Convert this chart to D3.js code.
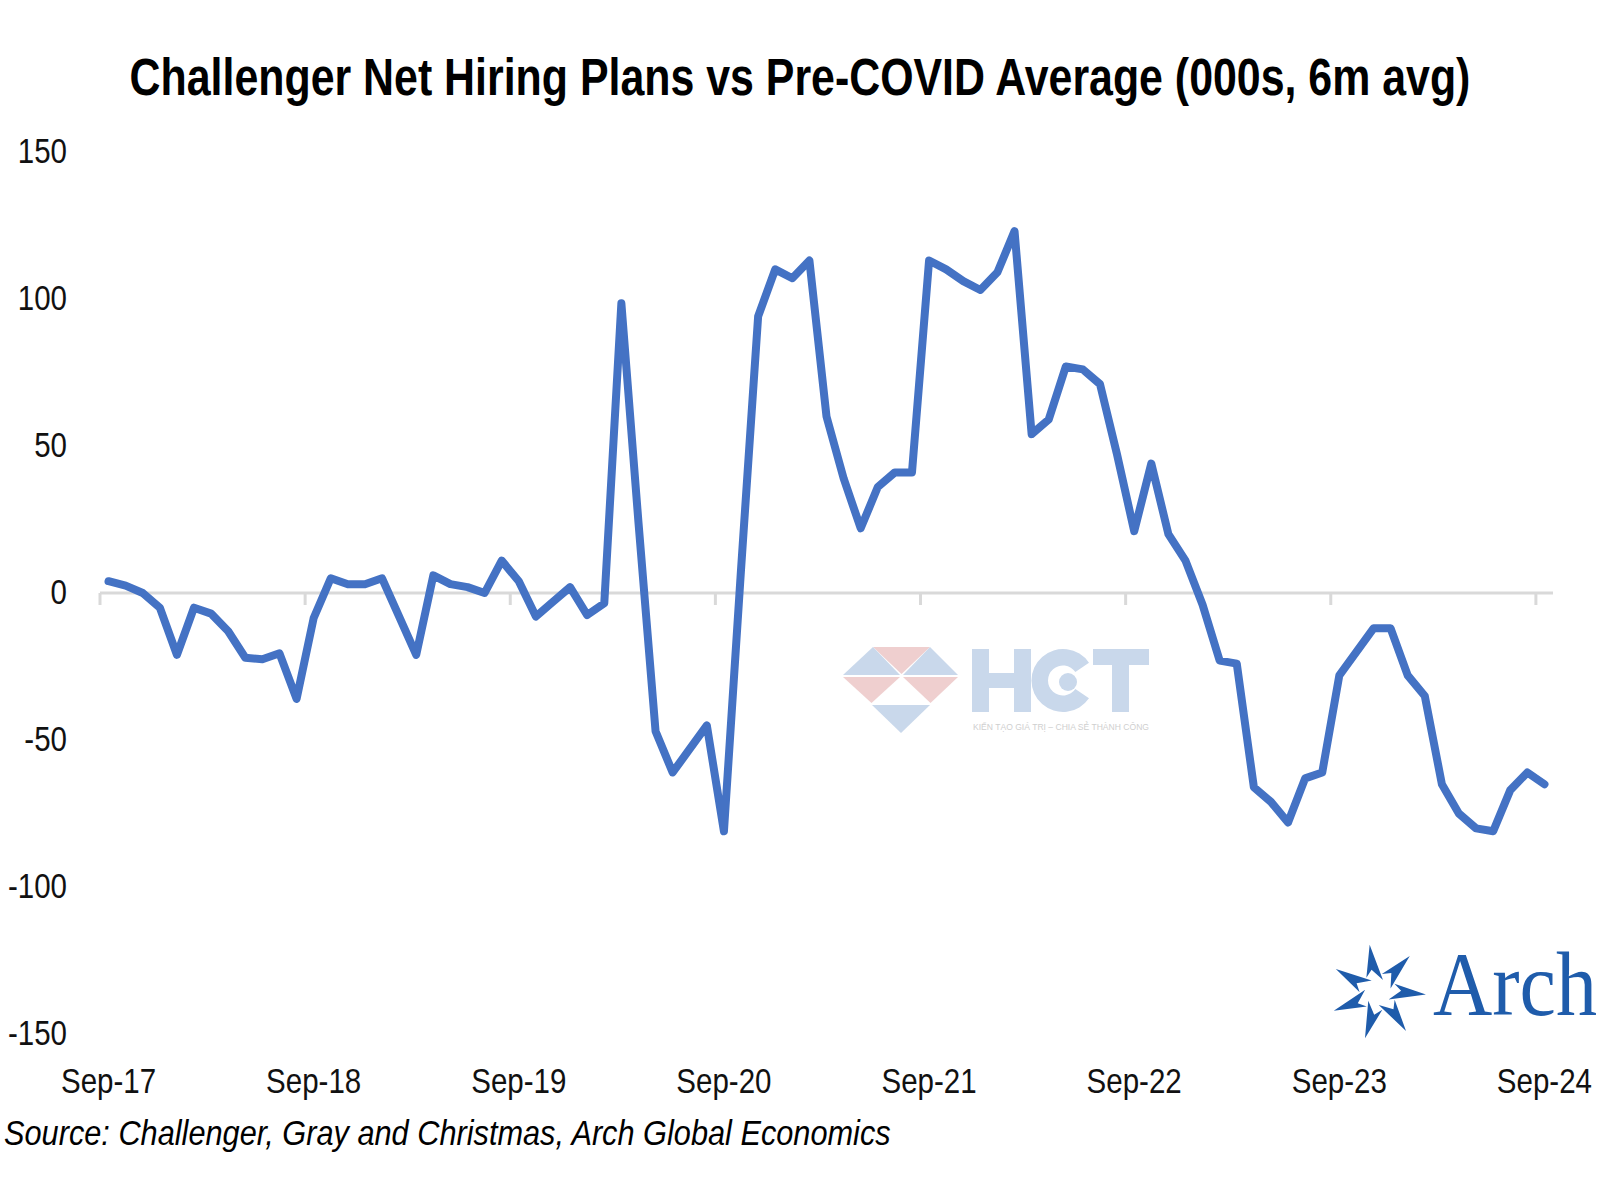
<!DOCTYPE html>
<html><head><meta charset="utf-8">
<script src="https://cdn.jsdelivr.net/npm/d3@7"></script>
<style>html,body{margin:0;padding:0;background:#fff;} svg{display:block}</style>
</head><body>
<svg id="chart" width="1600" height="1200"></svg>
<script>
const title = "Challenger Net Hiring Plans vs Pre-COVID Average (000s, 6m avg)";
const source = "Source: Challenger, Gray and Christmas, Arch Global Economics";
const startMonth = new Date(2017, 8, 1);
const endMonth = new Date(2024, 9, 1);
const months = d3.timeMonths(startMonth, endMonth);
const values = [
  4, 2.5, 0, -5, -21, -5, -7, -13, -22, -22.5, -20.5, -36,
  -8.5, 5, 3, 3, 5, -8, -21, 6, 3, 2, 0, 11,
  4, -8, -3, 2, -7.5, -3.5, 98.5, 24, -47, -61, -53, -45,
  -81, 8, 94, 110, 107, 113, 60, 39, 22, 36, 41, 41,
  113, 110, 106, 103, 109, 123, 54, 59, 77, 76, 71, 47,
  21, 44, 20, 11, -4, -23, -24, -66, -71, -78, -63, -61,
  -28, -20, -12, -12, -28, -35, -65, -75, -80, -81, -67, -61,
  -65
];
const yTicks = [-150, -100, -50, 0, 50, 100, 150];
const xTickLabels = ["Sep-17","Sep-18","Sep-19","Sep-20","Sep-21","Sep-22","Sep-23","Sep-24"];
const fmt = d3.timeFormat("%b-%y");

const svg = d3.select("#chart");
const FONT = "'Liberation Sans', Arial, sans-serif";
const NARROW = 0.82;

const x = d3.scaleBand().domain(months).range([100, 1553]).padding(0);
const y = d3.scaleLinear().domain([-150, 150]).range([1034.3, 151.7]);
const cx = m => x(m) + x.bandwidth() / 2;

// ---------- watermark (HCT) ----------
const wm = svg.append("g").attr("class", "watermark");
const wBlue = "#c9d8eb", wPink = "#efcfcf";
const tri = [
  [[873,647],[930,647],[901.5,674]],
  [[843,675],[873,647],[900,675]],
  [[903,675],[930,647],[958,675]],
  [[843,677],[900,677],[871.5,703]],
  [[903,677],[958,677],[930.5,703]],
  [[872,705],[930,705],[901,733]]
];
const triCol = [wPink, wBlue, wBlue, wPink, wPink, wBlue];
wm.selectAll("path.tri").data(tri).join("path")
  .attr("class","tri")
  .attr("d", d => "M" + d.map(p => p.join(",")).join("L") + "Z")
  .attr("fill", (d,i) => triCol[i]);
// H
wm.append("rect").attr("x",972).attr("y",649).attr("width",17).attr("height",63).attr("fill",wBlue);
wm.append("rect").attr("x",1014).attr("y",649).attr("width",17).attr("height",63).attr("fill",wBlue);
wm.append("rect").attr("x",972).attr("y",673).attr("width",59).attr("height",15).attr("fill",wBlue);
// C with dot
wm.append("path")
  .attr("transform","translate(1063,680.5)")
  .attr("d", d3.arc()({innerRadius: 15, outerRadius: 31.5, startAngle: Math.PI/2 + 0.6, endAngle: Math.PI/2 - 0.6 + 2*Math.PI}))
  .attr("fill", wBlue);
wm.append("circle").attr("cx",1068).attr("cy",682).attr("r",9).attr("fill",wBlue);
// T
wm.append("rect").attr("x",1093).attr("y",649).attr("width",56).attr("height",16).attr("fill",wBlue);
wm.append("rect").attr("x",1112).attr("y",649).attr("width",17).attr("height",63).attr("fill",wBlue);
wm.append("text").attr("x",973).attr("y",730)
  .attr("font-family", FONT).attr("font-size", 9).attr("fill", "#cfcfcf")
  .attr("textLength", 176).attr("lengthAdjust","spacingAndGlyphs")
  .text("KIẾN TẠO GIÁ TRỊ – CHIA SẺ THÀNH CÔNG");

// ---------- axis (zero line + ticks) ----------
svg.append("line")
  .attr("x1", x.range()[0]).attr("x2", x.range()[1])
  .attr("y1", y(0)).attr("y2", y(0))
  .attr("stroke", "#d9d9d9").attr("stroke-width", 3);

const tickMonths = months.filter(m => xTickLabels.includes(fmt(m)));
svg.selectAll("line.xtick").data(tickMonths).join("line")
  .attr("class","xtick")
  .attr("x1", d => x(d)).attr("x2", d => x(d))
  .attr("y1", y(0)).attr("y2", y(0) + 12)
  .attr("stroke", "#d9d9d9").attr("stroke-width", 3);

// x labels
svg.selectAll("text.xlab").data(tickMonths).join("text")
  .attr("class","xlab")
  .attr("transform", d => `translate(${cx(d)},1093) scale(${NARROW},1)`)
  .attr("text-anchor","middle")
  .attr("font-family", FONT).attr("font-size", 36).attr("fill", "#111")
  .text(d => fmt(d));

// y labels
svg.selectAll("text.ylab").data(yTicks).join("text")
  .attr("class","ylab")
  .attr("transform", d => `translate(67,${y(d) + 11}) scale(${NARROW},1)`)
  .attr("text-anchor","end")
  .attr("font-family", FONT).attr("font-size", 36).attr("fill", "#111")
  .text(d => String(d));

// ---------- line ----------
const line = d3.line()
  .x((d, i) => cx(months[i]))
  .y(d => y(d));
svg.append("path")
  .datum(values)
  .attr("d", line)
  .attr("fill","none")
  .attr("stroke","#4472c4")
  .attr("stroke-width", 8)
  .attr("stroke-linejoin","round")
  .attr("stroke-linecap","round");

// ---------- title ----------
const t = svg.append("text")
  .attr("font-family", FONT).attr("font-weight","bold").attr("font-size", 51)
  .attr("fill","#000").attr("text-anchor","middle")
  .text(title);
{
  const w = t.node().getComputedTextLength();
  t.attr("transform", `translate(800,95) scale(${1341 / w},1)`);
}

// ---------- source ----------
const s = svg.append("text")
  .attr("font-family", FONT).attr("font-style","italic").attr("font-size", 35)
  .attr("fill","#000")
  .text(source);
{
  const w = s.node().getComputedTextLength();
  s.attr("transform", `translate(4,1145) scale(${887 / w},1)`);
}

// ---------- Arch logo ----------
const archBlue = "#1f5cab";
const logo = svg.append("g").attr("transform","translate(1378,992)");
const nBlades = 7;
logo.selectAll("path.blade").data(d3.range(nBlades)).join("path")
  .attr("class","blade")
  .attr("transform", d => `rotate(${-100 + d * 360 / nBlades})`)
  .attr("d", "M48,0 L16,-9 L23,-2.5 L11,7 Z")
  .attr("fill", archBlue);
const a = svg.append("text")
  .attr("font-family","'Liberation Serif', 'Times New Roman', serif")
  .attr("font-size", 90).attr("fill", archBlue)
  .text("Arch");
{
  const w = a.node().getComputedTextLength();
  a.attr("transform", `translate(1433,1015) scale(${164 / w},1)`);
}
</script>
</body></html>
